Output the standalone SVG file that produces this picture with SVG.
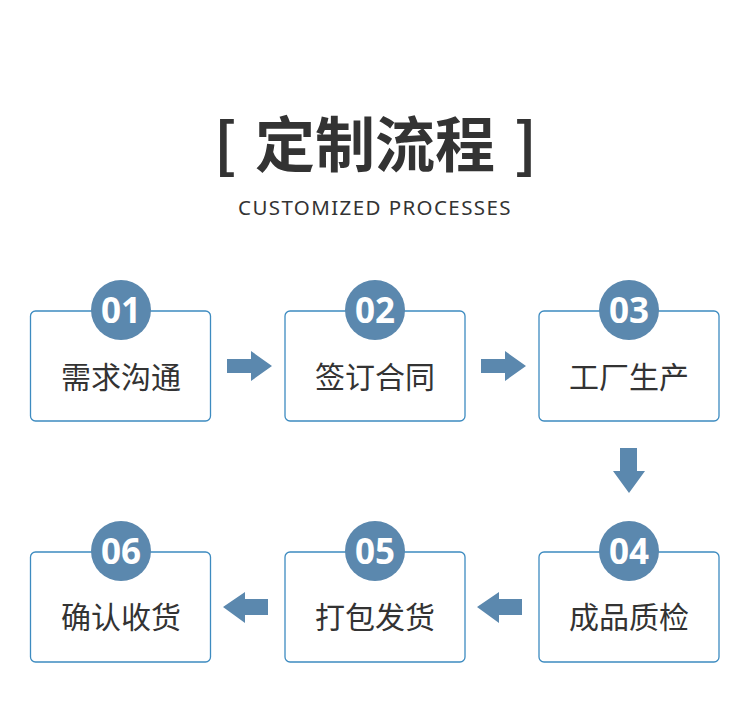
<svg xmlns="http://www.w3.org/2000/svg" width="750" height="720" viewBox="0 0 750 720">
<style>
.box{fill:#fff;stroke:#3d8bc0;stroke-width:1.3}
.num-bg{fill:#5b88ae}
.num{font-family:"Open Sans","Liberation Sans",sans-serif;font-weight:700;font-size:35px;fill:#fff;text-anchor:middle}
.lbl{font-family:"Noto Sans CJK SC","Noto Sans",sans-serif;font-size:30px;fill:#333;text-anchor:middle}
.arr{fill:#5b88ae}
.ttl{font-family:"Noto Sans CJK SC",sans-serif;font-weight:700;font-size:60px;fill:#333}
</style>
<rect width="750" height="720" fill="#fff"/>
<text class="ttl" x="214" y="167">[</text>
<text class="ttl" x="375" y="167" text-anchor="middle">定制流程</text>
<text class="ttl" x="537" y="167" text-anchor="end">]</text>
<text x="375" y="215" text-anchor="middle" font-family="Noto Sans,Open Sans,sans-serif" font-size="20.5" letter-spacing="1.4" fill="#333">CUSTOMIZED PROCESSES</text>

<g id="node1"><rect class="box" x="30.5" y="311" width="180" height="110" rx="5"/><circle class="num-bg" cx="121" cy="310" r="30"/><text class="num" x="121" y="323">01</text><text class="lbl" x="121" y="388">需求沟通</text></g>
<g id="node2"><rect class="box" x="285" y="311" width="180" height="110" rx="5"/><circle class="num-bg" cx="375" cy="310" r="30"/><text class="num" x="375" y="323">02</text><text class="lbl" x="375" y="388">签订合同</text></g>
<g id="node3"><rect class="box" x="539" y="311" width="180" height="110" rx="5"/><circle class="num-bg" cx="629" cy="310" r="30"/><text class="num" x="629" y="323">03</text><text class="lbl" x="629" y="388">工厂生产</text></g>
<g id="node4"><rect class="box" x="539" y="552" width="180" height="110" rx="5"/><circle class="num-bg" cx="629" cy="551" r="30"/><text class="num" x="629" y="564">04</text><text class="lbl" x="629" y="628">成品质检</text></g>
<g id="node5"><rect class="box" x="285" y="552" width="180" height="110" rx="5"/><circle class="num-bg" cx="375" cy="551" r="30"/><text class="num" x="375" y="564">05</text><text class="lbl" x="375" y="628">打包发货</text></g>
<g id="node6"><rect class="box" x="30.5" y="552" width="180" height="110" rx="5"/><circle class="num-bg" cx="121" cy="551" r="30"/><text class="num" x="121" y="564">06</text><text class="lbl" x="121" y="628">确认收货</text></g>

<g id="connectors">
<polygon class="arr" points="227,359 251,359 251,351 272,366 251,381 251,373 227,373"/>
<polygon class="arr" points="481,359 505,359 505,351 526,366 505,381 505,373 481,373"/>
<polygon class="arr" points="620,448 637,448 637,471 645,471 629,493 613,471 620,471"/>
<polygon class="arr" points="522,599 499,599 499,592 477,607 499,623 499,615 522,615"/>
<polygon class="arr" points="268,599 245,599 245,592 223,607 245,623 245,615 268,615"/>
</g>
</svg>
